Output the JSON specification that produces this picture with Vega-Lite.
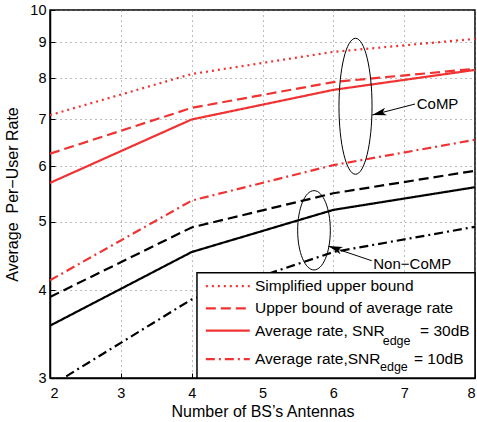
{
  "$schema": "https://vega.github.io/schema/vega-lite/v6.json",
  "autosize": "none",
  "width": 425,
  "height": 368,
  "padding": {"left": 50, "top": 10, "right": 2, "bottom": 44},
  "background": "white",
  "config": {
    "font": "Liberation Sans",
    "view": {"stroke": "black", "strokeWidth": 1.5},
    "axis": {
      "labelFont": "Liberation Sans",
      "titleFont": "Liberation Sans",
      "labelFontSize": 14.5,
      "titleFontSize": 16,
      "titleFontWeight": "normal",
      "labelColor": "black",
      "titleColor": "black",
      "domainColor": "black",
      "domainWidth": 1.5,
      "tickColor": "black",
      "tickSize": -5,
      "grid": true,
      "gridDash": [1, 4],
      "gridColor": "#7a7a7a",
      "gridWidth": 1
    }
  },
  "datasets": {
    "series": [
      {"x": 2, "y": 7.09, "group": "CoMP", "series": "Simplified upper bound"},
      {"x": 4, "y": 8.11, "group": "CoMP", "series": "Simplified upper bound"},
      {"x": 6, "y": 8.72, "group": "CoMP", "series": "Simplified upper bound"},
      {"x": 8, "y": 9.1, "group": "CoMP", "series": "Simplified upper bound"},
      {"x": 2, "y": 6.25, "group": "CoMP", "series": "Upper bound of average rate"},
      {"x": 4, "y": 7.26, "group": "CoMP", "series": "Upper bound of average rate"},
      {"x": 6, "y": 7.9, "group": "CoMP", "series": "Upper bound of average rate"},
      {"x": 8, "y": 8.25, "group": "CoMP", "series": "Upper bound of average rate"},
      {"x": 2, "y": 5.68, "group": "CoMP", "series": "Average rate, SNR_edge = 30dB"},
      {"x": 4, "y": 6.99, "group": "CoMP", "series": "Average rate, SNR_edge = 30dB"},
      {"x": 6, "y": 7.7, "group": "CoMP", "series": "Average rate, SNR_edge = 30dB"},
      {"x": 8, "y": 8.22, "group": "CoMP", "series": "Average rate, SNR_edge = 30dB"},
      {"x": 2, "y": 4.13, "group": "CoMP", "series": "Average rate, SNR_edge = 10dB"},
      {"x": 4, "y": 5.36, "group": "CoMP", "series": "Average rate, SNR_edge = 10dB"},
      {"x": 6, "y": 6.02, "group": "CoMP", "series": "Average rate, SNR_edge = 10dB"},
      {"x": 8, "y": 6.54, "group": "CoMP", "series": "Average rate, SNR_edge = 10dB"},
      {"x": 2, "y": 3.91, "group": "Non-CoMP", "series": "Upper bound of average rate"},
      {"x": 4, "y": 4.91, "group": "Non-CoMP", "series": "Upper bound of average rate"},
      {"x": 6, "y": 5.49, "group": "Non-CoMP", "series": "Upper bound of average rate"},
      {"x": 8, "y": 5.91, "group": "Non-CoMP", "series": "Upper bound of average rate"},
      {"x": 2, "y": 3.56, "group": "Non-CoMP", "series": "Average rate, SNR_edge = 30dB"},
      {"x": 4, "y": 4.53, "group": "Non-CoMP", "series": "Average rate, SNR_edge = 30dB"},
      {"x": 6, "y": 5.2, "group": "Non-CoMP", "series": "Average rate, SNR_edge = 30dB"},
      {"x": 8, "y": 5.6, "group": "Non-CoMP", "series": "Average rate, SNR_edge = 30dB"},
      {"x": 2, "y": 2.92, "group": "Non-CoMP", "series": "Average rate, SNR_edge = 10dB"},
      {"x": 4, "y": 3.88, "group": "Non-CoMP", "series": "Average rate, SNR_edge = 10dB"},
      {"x": 6, "y": 4.53, "group": "Non-CoMP", "series": "Average rate, SNR_edge = 10dB"},
      {"x": 8, "y": 4.92, "group": "Non-CoMP", "series": "Average rate, SNR_edge = 10dB"}
    ],
    "legendLines": [
      {"series": "Simplified upper bound", "x": 4.2, "x2": 4.82, "y": 4.053},
      {"series": "Upper bound of average rate", "x": 4.2, "x2": 4.82, "y": 3.768},
      {"series": "Average rate, SNR_edge = 30dB", "x": 4.2, "x2": 4.82, "y": 3.502},
      {"series": "Average rate, SNR_edge = 10dB", "x": 4.2, "x2": 4.82, "y": 3.192}
    ],
    "legendText": [
      {"t": "Simplified upper bound", "x": 4.894, "y": 4.053},
      {"t": "Upper bound of average rate", "x": 4.894, "y": 3.768},
      {"t": "Average rate, SNR", "x": 4.894, "y": 3.502},
      {"t": "= 30dB", "x": 7.224, "y": 3.502},
      {"t": "Average rate,SNR", "x": 4.894, "y": 3.192},
      {"t": "= 10dB", "x": 7.139, "y": 3.192}
    ],
    "legendSub": [
      {"t": "edge", "x": 6.697, "y": 3.389},
      {"t": "edge", "x": 6.659, "y": 3.107}
    ],
    "legendBox": [{"x": 4.075, "x2": 8, "y": 3, "y2": 4.233}],
    "labels": [
      {"t": "CoMP", "x": 7.177, "y": 7.35},
      {"t": "Non−CoMP", "x": 6.564, "y": 4.356}
    ],
    "arrows": [
      {"x": 6.55, "y": 7.092, "x2": 7.153, "y2": 7.352},
      {"x": 5.929, "y": 4.619, "x2": 6.542, "y2": 4.403}
    ]
  },
  "layer": [
    {
      "data": {"name": "series"},
      "mark": {"type": "line", "clip": true, "strokeWidth": 2.2},
      "encoding": {
        "x": {"field": "x", "type": "quantitative", "scale": {"domain": [2, 8], "nice": false, "zero": false},
              "axis": {"title": "Number of BS’s Antennas", "values": [2, 3, 4, 5, 6, 7, 8], "format": "d", "labelPadding": 13, "titlePadding": 4}},
        "y": {"field": "y", "type": "quantitative", "scale": {"type": "log", "domain": [3, 10], "nice": false},
              "axis": {"title": "Average\u00a0\u00a0Per−User Rate", "values": [3, 4, 5, 6, 7, 8, 9, 10], "format": "d", "labelPadding": 9, "titlePadding": 9}},
        "color": {"field": "group", "type": "nominal", "scale": {"domain": ["CoMP", "Non-CoMP"], "range": ["#f03232", "#000000"]}, "legend": null},
        "strokeDash": {"field": "series", "type": "nominal",
          "scale": {"domain": ["Simplified upper bound", "Upper bound of average rate", "Average rate, SNR_edge = 30dB", "Average rate, SNR_edge = 10dB"],
                    "range": [[2, 4], [10, 5], [1, 0], [9, 4, 2, 4]]},
          "legend": null}
      }
    },
    {
      "data": {"name": "arrows"},
      "mark": {"type": "rule", "color": "black", "strokeWidth": 1},
      "encoding": {
        "x": {"field": "x", "type": "quantitative"},
        "y": {"field": "y", "type": "quantitative"},
        "x2": {"field": "x2"},
        "y2": {"field": "y2"}
      }
    },
    {
      "data": {"values": [{"x": 6.55, "y": 7.092}]},
      "mark": {"type": "point", "shape": "M0,0L-2,-0.55L-1.5,0L-2,0.55Z", "size": 200, "angle": 165.6, "filled": true, "color": "black", "opacity": 1},
      "encoding": {
        "x": {"field": "x", "type": "quantitative"},
        "y": {"field": "y", "type": "quantitative"}
      }
    },
    {
      "data": {"values": [{"x": 5.929, "y": 4.619}]},
      "mark": {"type": "point", "shape": "M0,0L-2,-0.55L-1.5,0L-2,0.55Z", "size": 200, "angle": 198.7, "filled": true, "color": "black", "opacity": 1},
      "encoding": {
        "x": {"field": "x", "type": "quantitative"},
        "y": {"field": "y", "type": "quantitative"}
      }
    },
    {
      "data": {"values": [{"x": 6.313, "y": 7.298}]},
      "mark": {"type": "point", "shape": "M0,-1C0.134,-1 0.243,-0.552 0.243,0C0.243,0.552 0.134,1 0,1C-0.134,1 -0.243,0.552 -0.243,0C-0.243,-0.552 -0.134,-1 0,-1Z", "size": 18496, "filled": false, "stroke": "black", "strokeWidth": 1, "opacity": 1},
      "encoding": {
        "x": {"field": "x", "type": "quantitative"},
        "y": {"field": "y", "type": "quantitative"}
      }
    },
    {
      "data": {"values": [{"x": 5.727, "y": 4.864}]},
      "mark": {"type": "point", "shape": "M0,-1C0.228,-1 0.412,-0.552 0.412,0C0.412,0.552 0.228,1 0,1C-0.228,1 -0.412,0.552 -0.412,0C-0.412,-0.552 -0.228,-1 0,-1Z", "size": 6288, "filled": false, "stroke": "black", "strokeWidth": 1, "opacity": 1},
      "encoding": {
        "x": {"field": "x", "type": "quantitative"},
        "y": {"field": "y", "type": "quantitative"}
      }
    },
    {
      "data": {"name": "labels"},
      "mark": {"type": "text", "align": "left", "baseline": "middle", "fontSize": 15, "color": "black"},
      "encoding": {
        "x": {"field": "x", "type": "quantitative"},
        "y": {"field": "y", "type": "quantitative"},
        "text": {"field": "t"}
      }
    },
    {
      "data": {"name": "legendBox"},
      "mark": {"type": "rect", "fill": "white", "stroke": "black", "strokeWidth": 1.5},
      "encoding": {
        "x": {"field": "x", "type": "quantitative"},
        "x2": {"field": "x2"},
        "y": {"field": "y", "type": "quantitative"},
        "y2": {"field": "y2"}
      }
    },
    {
      "data": {"name": "legendLines"},
      "mark": {"type": "rule", "color": "#f03232", "strokeWidth": 2.2},
      "encoding": {
        "x": {"field": "x", "type": "quantitative"},
        "x2": {"field": "x2"},
        "y": {"field": "y", "type": "quantitative"},
        "strokeDash": {"field": "series", "type": "nominal", "legend": null}
      }
    },
    {
      "data": {"name": "legendText"},
      "mark": {"type": "text", "align": "left", "baseline": "middle", "fontSize": 15.5, "color": "black"},
      "encoding": {
        "x": {"field": "x", "type": "quantitative"},
        "y": {"field": "y", "type": "quantitative"},
        "text": {"field": "t"}
      }
    },
    {
      "data": {"name": "legendSub"},
      "mark": {"type": "text", "align": "left", "baseline": "middle", "fontSize": 12.5, "color": "black"},
      "encoding": {
        "x": {"field": "x", "type": "quantitative"},
        "y": {"field": "y", "type": "quantitative"},
        "text": {"field": "t"}
      }
    }
  ]
}
